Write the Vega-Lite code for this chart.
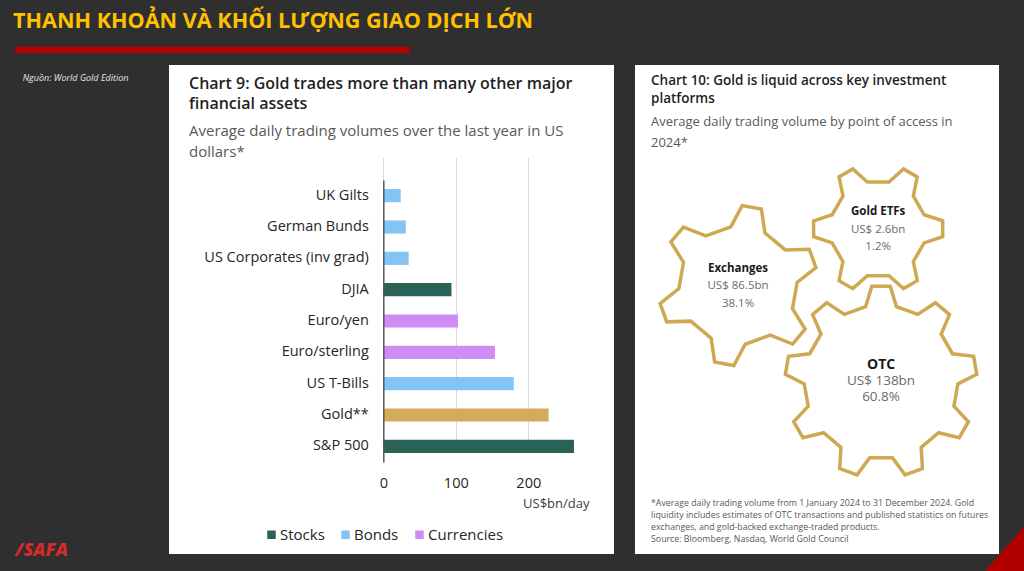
{
  "$schema": "https://vega.github.io/schema/vega-lite/v6.json",
  "background": "#2f2f2f",
  "padding": {"left": 12, "top": 0, "right": 0, "bottom": 0},
  "config": {
    "font": "Open Sans",
    "view": {"stroke": null},
    "axis": {"labelFont": "Open Sans", "titleFont": "Open Sans"},
    "legend": {"labelFont": "Open Sans"},
    "title": {"font": "Open Sans", "subtitleFont": "Open Sans"}
  },
  "spacing": 12,
  "vconcat": [
    {
      "width": 520,
      "height": 53,
      "data": {"values": [{"heading": "THANH KHOẢN VÀ KHỐI LƯỢNG GIAO DỊCH LỚN"}]},
      "layer": [
        {
          "mark": {"type": "rect", "color": "#b30000"},
          "encoding": {
            "x": {"datum": 0.6, "type": "quantitative", "scale": {"domain": [0, 100]}, "axis": null},
            "x2": {"datum": 76.5},
            "y": {"datum": 88, "type": "quantitative", "scale": {"domain": [0, 100], "reverse": true}, "axis": null},
            "y2": {"datum": 100}
          }
        },
        {
          "mark": {"type": "text", "align": "left", "baseline": "alphabetic", "fontSize": 21.6, "fontWeight": "bold", "color": "#ffc000"},
          "encoding": {
            "x": {"datum": 0.2, "type": "quantitative", "scale": {"domain": [0, 100]}, "axis": null},
            "y": {"datum": 53.4, "type": "quantitative", "scale": {"domain": [0, 100], "reverse": true}, "axis": null},
            "text": {"field": "heading"}
          }
        }
      ]
    },
    {
      "spacing": 21,
      "hconcat": [
        {
          "width": 136,
          "height": 489,
          "data": {"values": [{"label": "Nguồn: World Gold Edition", "logo": "/SAFA"}]},
          "layer": [
            {
              "mark": {"type": "text", "align": "left", "baseline": "middle", "fontSize": 9, "fontStyle": "italic", "color": "#e6e6e6"},
              "encoding": {
                "x": {"datum": 7.9, "type": "quantitative", "scale": {"domain": [0, 100]}, "axis": null},
                "y": {"datum": 2.6, "type": "quantitative", "scale": {"domain": [0, 100], "reverse": true}, "axis": null},
                "text": {"field": "label"}
              }
            },
            {
              "mark": {"type": "text", "align": "left", "baseline": "middle", "fontSize": 18, "fontWeight": 900, "fontStyle": "italic", "color": "#d42b2b"},
              "encoding": {
                "x": {"datum": 2.2, "type": "quantitative", "scale": {"domain": [0, 100]}, "axis": null},
                "y": {"datum": 99.4, "type": "quantitative", "scale": {"domain": [0, 100], "reverse": true}, "axis": null},
                "text": {"field": "logo"}
              }
            }
          ]
        },
        {
          "width": 445,
          "height": 489,
          "view": {"fill": "white", "stroke": null},
          "title": {
            "text": ["Chart 9: Gold trades more than many other major", "financial assets"],
            "subtitle": ["Average daily trading volumes over the last year in US", "dollars*"],
            "anchor": "start",
            "frame": "group",
            "dx": 20,
            "offset": -95,
            "fontSize": 16,
            "fontWeight": 600,
            "color": "#1f1f1f",
            "lineHeight": 20,
            "subtitleFontSize": 15,
            "subtitleColor": "#595959",
            "subtitleLineHeight": 21,
            "subtitlePadding": 12.5
          },
          "data": {
            "values": [
              {"asset": "UK Gilts", "volume": 24, "group": "Bonds"},
              {"asset": "German Bunds", "volume": 31, "group": "Bonds"},
              {"asset": "US Corporates (inv grad)", "volume": 35, "group": "Bonds"},
              {"asset": "DJIA", "volume": 94, "group": "Stocks"},
              {"asset": "Euro/yen", "volume": 103, "group": "Currencies"},
              {"asset": "Euro/sterling", "volume": 154, "group": "Currencies"},
              {"asset": "US T-Bills", "volume": 180, "group": "Bonds"},
              {"asset": "Gold**", "volume": 228, "group": "Gold"},
              {"asset": "S&P 500", "volume": 263, "group": "Stocks"}
            ]
          },
          "mark": {"type": "bar"},
          "encoding": {
            "y": {
              "field": "asset",
              "type": "nominal",
              "sort": null,
              "scale": {
                "domain": ["UK Gilts", "German Bunds", "US Corporates (inv grad)", "DJIA", "Euro/yen", "Euro/sterling", "US T-Bills", "Gold**", "S&P 500"],
                "range": [115, 397],
                "paddingInner": 0.58,
                "paddingOuter": 0.29
              },
              "axis": {
                "title": null,
                "offset": -214.3,
                "domain": true,
                "domainColor": "#595959",
                "domainWidth": 1.5,
                "ticks": false,
                "tickSize": 0,
                "labelPadding": 15,
                "labelFontSize": 14.5,
                "labelColor": "#262626",
                "grid": false,
                "zindex": 1
              }
            },
            "x": {
              "field": "volume",
              "type": "quantitative",
              "scale": {"domain": [0, 300], "range": [214.3, 431.8], "nice": false},
              "axis": {
                "values": [0, 100, 200],
                "title": "US$bn/day",
                "offset": -92,
                "domain": false,
                "ticks": false,
                "tickSize": 0,
                "labelPadding": 14,
                "labelFlush": false,
                "labelFontSize": 14.5,
                "labelColor": "#262626",
                "grid": true,
                "gridColor": "#d9d9d9",
                "gridWidth": 1,
                "titleFontSize": 13,
                "titleFontWeight": "normal",
                "titleColor": "#404040",
                "titleX": 420,
                "titleY": 41,
                "titleAlign": "right",
                "titleBaseline": "middle"
              }
            },
            "color": {
              "field": "group",
              "type": "nominal",
              "scale": {
                "domain": ["Stocks", "Bonds", "Currencies", "Gold"],
                "range": ["#2a6255", "#82c4f5", "#d08cf5", "#d4ab5a"]
              },
              "legend": {
                "orient": "none",
                "legendX": 252,
                "legendY": 527,
                "direction": "horizontal",
                "title": null,
                "values": ["Stocks", "Bonds", "Currencies"],
                "symbolType": "square",
                "symbolSize": 72,
                "symbolStrokeWidth": 0,
                "labelFontSize": 15,
                "labelColor": "#262626",
                "labelOffset": 1,
                "columnPadding": 13
              }
            }
          }
        },
        {
          "width": 364,
          "height": 489,
          "view": {"fill": "white", "stroke": null},
          "title": {
            "text": ["Chart 10: Gold is liquid across key investment", "platforms"],
            "subtitle": ["Average daily trading volume by point of access in", "2024*"],
            "anchor": "start",
            "frame": "group",
            "dx": 16,
            "offset": -85,
            "fontSize": 13.5,
            "fontWeight": 600,
            "color": "#1f1f1f",
            "lineHeight": 18,
            "subtitleFontSize": 13,
            "subtitleColor": "#595959",
            "subtitleLineHeight": 21.3,
            "subtitlePadding": 10.7
          },
          "data": {
            "values": [
              {"name": "Exchanges", "amount": "US$ 86.5bn", "share": "38.1%"},
              {"name": "Gold ETFs", "amount": "US$ 2.6bn", "share": "1.2%"},
              {"name": "OTC", "amount": "US$ 138bn", "share": "60.8%"}
            ]
          },
          "layer": [
            {
              "transform": [{"filter": "datum.name === 'Exchanges'"}],
              "encoding": {
                "x": {"datum": 28.3, "type": "quantitative", "scale": {"domain": [0, 100]}, "axis": null},
                "y": {"datum": 45.1, "type": "quantitative", "scale": {"domain": [0, 100], "reverse": true}, "axis": null}
              },
              "layer": [
                {
                  "mark": {
                    "type": "point",
                    "shape": "M -0.090 -0.734 L 0.052 -0.999 L 0.292 -0.956 L 0.336 -0.659 L 0.591 -0.445 L 0.891 -0.454 L 0.974 -0.225 L 0.739 -0.039 L 0.681 0.289 L 0.839 0.545 L 0.682 0.731 L 0.403 0.621 L 0.090 0.734 L -0.052 0.999 L -0.292 0.956 L -0.336 0.659 L -0.591 0.445 L -0.891 0.454 L -0.974 0.225 L -0.739 0.039 L -0.681 -0.289 L -0.839 -0.545 L -0.682 -0.731 L -0.403 -0.621 Z",
                    "size": 25600,
                    "filled": false,
                    "color": "#cfa853",
                    "stroke": "#cfa853",
                    "strokeWidth": 3.5,
                    "strokeJoin": "miter",
                    "opacity": 1
                  }
                },
                {
                  "mark": {"type": "text", "dy": -17, "fontSize": 11.5, "fontWeight": "bold", "color": "#1a1a1a"},
                  "encoding": {"text": {"field": "name"}}
                },
                {
                  "mark": {"type": "text", "dy": 0, "fontSize": 11.5, "color": "#6b6b6b"},
                  "encoding": {"text": {"field": "amount"}}
                },
                {
                  "mark": {"type": "text", "dy": 18, "fontSize": 11.5, "color": "#6b6b6b"},
                  "encoding": {"text": {"field": "share"}}
                }
              ]
            },
            {
              "transform": [{"filter": "datum.name === 'Gold ETFs'"}],
              "encoding": {
                "x": {"datum": 66.8, "type": "quantitative", "scale": {"domain": [0, 100]}, "axis": null},
                "y": {"datum": 33.5, "type": "quantitative", "scale": {"domain": [0, 100], "reverse": true}, "axis": null}
              },
              "layer": [
                {
                  "mark": {
                    "type": "point",
                    "shape": "M -0.090 -0.734 L 0.052 -0.999 L 0.292 -0.956 L 0.336 -0.659 L 0.591 -0.445 L 0.891 -0.454 L 0.974 -0.225 L 0.739 -0.039 L 0.681 0.289 L 0.839 0.545 L 0.682 0.731 L 0.403 0.621 L 0.090 0.734 L -0.052 0.999 L -0.292 0.956 L -0.336 0.659 L -0.591 0.445 L -0.891 0.454 L -0.974 0.225 L -0.739 0.039 L -0.681 -0.289 L -0.839 -0.545 L -0.682 -0.731 L -0.403 -0.621 Z",
                    "angle": 80,
                    "size": 16900,
                    "filled": false,
                    "color": "#cfa853",
                    "stroke": "#cfa853",
                    "strokeWidth": 3.5,
                    "strokeJoin": "miter",
                    "opacity": 1
                  }
                },
                {
                  "mark": {"type": "text", "dy": -17, "fontSize": 11.5, "fontWeight": "bold", "color": "#1a1a1a"},
                  "encoding": {"text": {"field": "name"}}
                },
                {
                  "mark": {"type": "text", "dy": 1, "fontSize": 11.5, "color": "#6b6b6b"},
                  "encoding": {"text": {"field": "amount"}}
                },
                {
                  "mark": {"type": "text", "dy": 18, "fontSize": 11.5, "color": "#6b6b6b"},
                  "encoding": {"text": {"field": "share"}}
                }
              ]
            },
            {
              "transform": [{"filter": "datum.name === 'OTC'"}],
              "encoding": {
                "x": {"datum": 67.6, "type": "quantitative", "scale": {"domain": [0, 100]}, "axis": null},
                "y": {"datum": 64.8, "type": "quantitative", "scale": {"domain": [0, 100], "reverse": true}, "axis": null}
              },
              "layer": [
                {
                  "mark": {
                    "type": "point",
                    "shape": "M -0.160 -0.784 L -0.096 -0.995 L 0.096 -0.995 L 0.160 -0.784 L 0.382 -0.703 L 0.566 -0.824 L 0.713 -0.701 L 0.626 -0.498 L 0.744 -0.293 L 0.964 -0.267 L 0.997 -0.079 L 0.800 0.021 L 0.759 0.254 L 0.910 0.415 L 0.814 0.581 L 0.599 0.530 L 0.418 0.682 L 0.431 0.903 L 0.250 0.968 L 0.118 0.791 L -0.118 0.791 L -0.250 0.968 L -0.431 0.903 L -0.418 0.682 L -0.599 0.530 L -0.814 0.581 L -0.910 0.415 L -0.759 0.254 L -0.800 0.021 L -0.997 -0.079 L -0.964 -0.267 L -0.744 -0.293 L -0.626 -0.498 L -0.713 -0.701 L -0.566 -0.824 L -0.382 -0.703 Z",
                    "size": 36864,
                    "filled": false,
                    "color": "#cfa853",
                    "stroke": "#cfa853",
                    "strokeWidth": 3.5,
                    "strokeJoin": "miter",
                    "opacity": 1
                  }
                },
                {
                  "mark": {"type": "text", "dy": -17, "fontSize": 14, "fontWeight": "bold", "color": "#1a1a1a"},
                  "encoding": {"text": {"field": "name"}}
                },
                {
                  "mark": {"type": "text", "dy": -1, "fontSize": 13.5, "color": "#6b6b6b"},
                  "encoding": {"text": {"field": "amount"}}
                },
                {
                  "mark": {"type": "text", "dy": 15, "fontSize": 13.5, "color": "#6b6b6b"},
                  "encoding": {"text": {"field": "share"}}
                }
              ]
            },
            {
              "data": {
                "values": [
                  {
                    "note": [
                      "*Average daily trading volume from 1 January 2024 to 31 December 2024. Gold",
                      "liquidity includes estimates of OTC transactions and published statistics on futures",
                      "exchanges, and gold-backed exchange-traded products.",
                      "Source: Bloomberg, Nasdaq, World Gold Council"
                    ]
                  }
                ]
              },
              "mark": {"type": "text", "align": "left", "baseline": "top", "fontSize": 8.8, "lineHeight": 12.2, "color": "#595959"},
              "encoding": {
                "x": {"datum": 4.4, "type": "quantitative", "scale": {"domain": [0, 100]}, "axis": null},
                "y": {"datum": 88.7, "type": "quantitative", "scale": {"domain": [0, 100], "reverse": true}, "axis": null},
                "text": {"field": "note"}
              }
            },
            {
              "data": {"values": [{"corner": "accent"}]},
              "mark": {"type": "point", "shape": "M 1 -1.13 L -1 1.13 L 1 1.13 Z", "size": 1521, "filled": true, "color": "#b00000", "strokeWidth": 0, "opacity": 1},
              "encoding": {
                "x": {"datum": 101.51, "type": "quantitative", "scale": {"domain": [0, 100]}, "axis": null},
                "y": {"datum": 98.98, "type": "quantitative", "scale": {"domain": [0, 100], "reverse": true}, "axis": null}
              }
            }
          ]
        }
      ]
    }
  ]
}
